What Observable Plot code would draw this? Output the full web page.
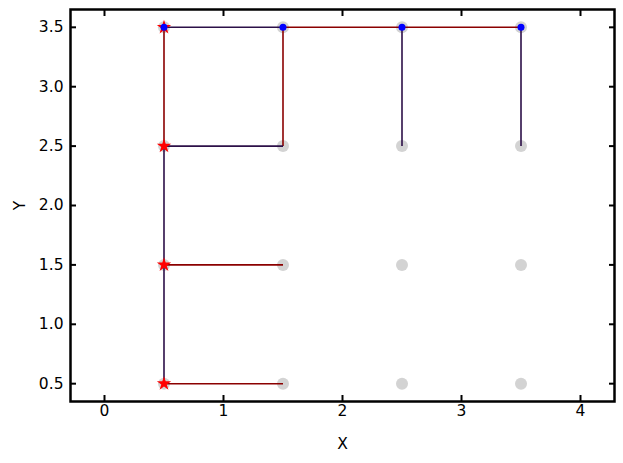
<!DOCTYPE html>
<html>
<head>
<meta charset="utf-8">
<script src="https://cdn.jsdelivr.net/npm/d3@7"></script>
<script src="https://cdn.jsdelivr.net/npm/@observablehq/plot@0.6"></script>
<style>
  body { margin: 0; background: #fff; }
  svg { font-family: "DejaVu Sans", sans-serif; }
</style>
</head>
<body>
<div id="chart"></div>
<script>
// grid nodes
const gridX = [0.5, 1.5, 2.5, 3.5];
const gridY = [0.5, 1.5, 2.5, 3.5];

// red tree edges
const redX1 = [0.5, 0.5, 0.5, 1.5, 1.5, 2.5];
const redY1 = [0.5, 1.5, 2.5, 2.5, 3.5, 3.5];
const redX2 = [1.5, 1.5, 0.5, 1.5, 2.5, 3.5];
const redY2 = [0.5, 1.5, 3.5, 3.5, 3.5, 3.5];

// purple tree edges
const purX1 = [0.5, 0.5, 0.5, 0.5, 2.5, 3.5];
const purY1 = [0.5, 1.5, 2.5, 3.5, 2.5, 2.5];
const purX2 = [0.5, 0.5, 1.5, 1.5, 2.5, 3.5];
const purY2 = [1.5, 2.5, 2.5, 3.5, 3.5, 3.5];

// red star nodes
const starX = [0.5, 0.5, 0.5, 0.5];
const starY = [0.5, 1.5, 2.5, 3.5];

// blue dot nodes
const blueX = [0.5, 1.5, 2.5, 3.5];
const blueY = [3.5, 3.5, 3.5, 3.5];

const xTicks = [0, 1, 2, 3, 4];
const yTicks = [0.5, 1.0, 1.5, 2.0, 2.5, 3.0, 3.5];

const nodes = gridX.flatMap(x => gridY.map(y => ({x, y})));
const redSegs = redX1.map((d, i) => ({x1: d, y1: redY1[i], x2: redX2[i], y2: redY2[i]}));
const purSegs = purX1.map((d, i) => ({x1: d, y1: purY1[i], x2: purX2[i], y2: purY2[i]}));
const stars = starX.map((d, i) => ({x: d, y: starY[i]}));
const blues = blueX.map((d, i) => ({x: d, y: blueY[i]}));

const fmt = d3.format(".1f");
const fmtX = d3.format("d");

const chart = Plot.plot({
  width: 623,
  height: 463,
  marginLeft: 70,
  marginRight: 9,
  marginTop: 9,
  marginBottom: 62,
  style: {fontSize: "15.5px", fontFamily: "DejaVu Sans, sans-serif", color: "#000"},
  x: {domain: [-0.2857, 4.2857]},
  y: {domain: [0.35, 3.65]},
  marks: [
    Plot.dot(nodes, {x: "x", y: "y", r: 6, fill: "#d3d3d3", stroke: null}),
    Plot.link(redSegs, {x1: "x1", y1: "y1", x2: "x2", y2: "y2", stroke: "#8b0000", strokeWidth: 1.6}),
    Plot.link(purSegs, {x1: "x1", y1: "y1", x2: "x2", y2: "y2", stroke: "#2c1048", strokeWidth: 1.6}),
    Plot.dot(stars, {x: "x", y: "y", symbol: "star", r: 4.5, fill: "red", stroke: null}),
    Plot.dot(blues, {x: "x", y: "y", r: 3.5, fill: "blue", stroke: null}),
    Plot.axisX({ticks: xTicks, tickSize: -6, strokeWidth: 2, tickPadding: 9, tickFormat: fmtX, fontSize: 15.5, label: "X", labelAnchor: "center", labelArrow: "none", labelOffset: 47}),
    Plot.axisX({ticks: xTicks, anchor: "top", tickSize: -6, strokeWidth: 2, tickFormat: () => "", label: null}),
    Plot.axisY({ticks: yTicks, tickSize: -6, strokeWidth: 2, tickPadding: 13, tickFormat: fmt, fontSize: 15.5, label: "Y", labelAnchor: "center", labelArrow: "none", labelOffset: 57}),
    Plot.axisY({ticks: yTicks, anchor: "right", tickSize: -6, strokeWidth: 2, tickFormat: () => "", label: null}),
    Plot.frame({stroke: "#000", strokeWidth: 2.5})
  ]
});
document.getElementById("chart").appendChild(chart);
</script>
</body>
</html>
